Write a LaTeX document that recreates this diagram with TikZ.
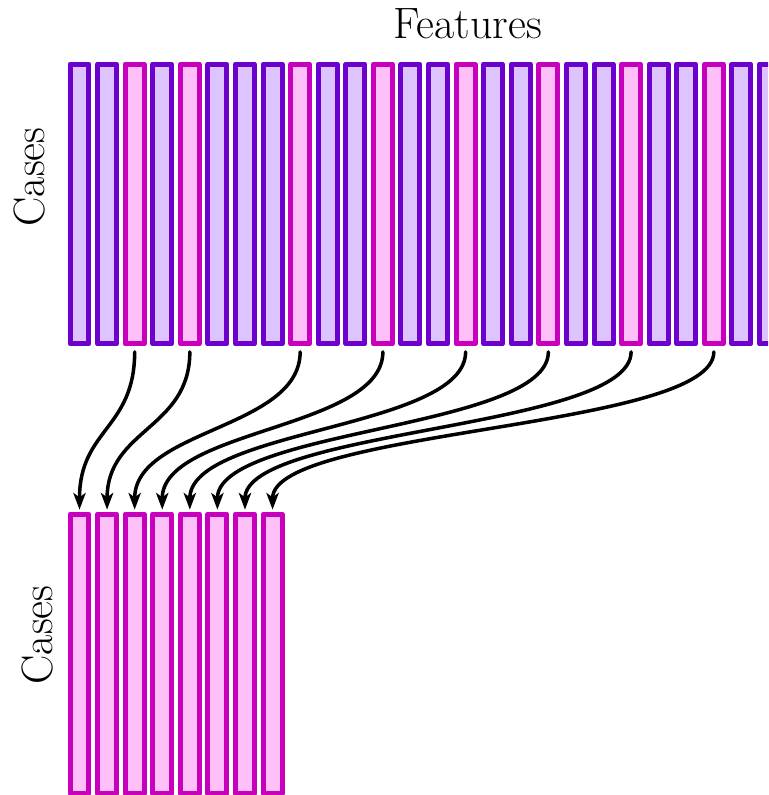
\documentclass[tikz,border=0pt]{standalone}
\usetikzlibrary{arrows.meta}
\definecolor{featline}{RGB}{108,0,204}
\definecolor{featfill}{RGB}{221,196,255}
\definecolor{pickline}{RGB}{200,0,190}
\definecolor{pickfill}{RGB}{255,192,250}
\tikzset{
  bar/.style={draw, line width=0.1cm, inner sep=0pt, outer sep=0pt,
    minimum width=0.38cm, minimum height=5.6cm},
  featbar/.style={bar, draw=featline, fill=featfill},
  pickbar/.style={bar, draw=pickline, fill=pickfill},
  pick/.style={-{Stealth[length=9.5pt,width=7pt,inset=2.5pt]}, line width=2pt,
    shorten <=4.5pt, shorten >=2.5pt},
  lbl/.style={font=\fontsize{25}{29}\selectfont}
}
\begin{document}
\begin{tikzpicture}[x=0.02cm, y=-0.02cm, line join=round, line cap=round]
			\clip (0,0) rectangle (768,795);
			% feature columns of the full table
			\foreach \i in {0,1,3,5,6,7,9,10,12,13,15,16,18,19,21,22,24,25,26}
				\node[featbar] (f\i) at ({79.5+27.58*\i},204) {};
			\foreach \i in {2,4,8,11,14,17,20,23}
				\node[pickbar] (f\i) at ({79.5+27.58*\i},204) {};
			% selected columns
			\foreach \j in {0,...,7}
				\node[pickbar] (s\j) at ({79.5+27.58*\j},654) {};
			\foreach \i [count=\j from 0] in {2,4,8,11,14,17,20,23}
				\draw[pick] (f\i.south) .. controls +(0,85) and +(0,-85) .. (s\j.north);
			\node[lbl] (feat) at (468,24) {Features};
			\node[lbl, rotate=90] (casesA) at (29,177) {Cases};
			\node[lbl, rotate=90] (casesB) at (37,635) {Cases};
		\end{tikzpicture}
\end{document}
